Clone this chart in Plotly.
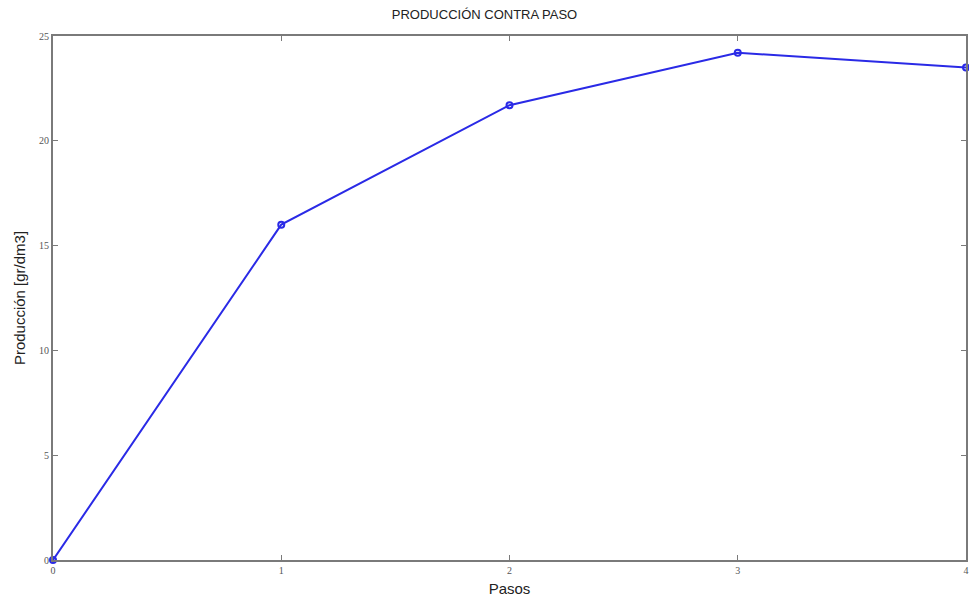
import plotly.graph_objects as go

pasos = [0, 1, 2, 3, 4]
produccion = [0.0, 16.0, 21.7, 24.2, 23.5]
x_ticks = [0, 1, 2, 3, 4]
y_ticks = [0, 5, 10, 15, 20, 25]

fig = go.Figure()
fig.add_trace(go.Scatter(
    x=pasos, y=produccion, mode="lines+markers",
    line=dict(color="#2a2ae6", width=2),
    marker=dict(symbol="circle-open", size=6, color="#2a2ae6", line=dict(width=2)),
    cliponaxis=False, showlegend=False,
))

axis_common = dict(
    showgrid=False, zeroline=False, showline=True, linecolor="#7a7a7a", linewidth=2,
    mirror="ticks", ticks="inside", ticklen=5, tickcolor="#7a7a7a", automargin=False,
    tickfont=dict(family="Liberation Serif, serif", size=10, color="#555555"),
)

W, H = 969, 601
fig.update_layout(
    width=W, height=H,
    margin=dict(l=53, r=3, t=36, b=41),
    paper_bgcolor="white", plot_bgcolor="white",
    title=dict(text="PRODUCCIÓN CONTRA PASO", x=0.5, xanchor="center", y=1 - 14 / H, yanchor="middle",
               font=dict(family="Liberation Sans, Arial", size=13, color="#222222")),
    xaxis=dict(range=[0, 4], tickvals=x_ticks, ticktext=[str(v) for v in x_ticks],
               title=dict(text="Pasos", standoff=8, font=dict(family="Liberation Sans, Arial", size=15, color="#222222")),
               **axis_common),
    yaxis=dict(range=[0, 25], tickvals=y_ticks, ticktext=[str(v) for v in y_ticks],
               title=dict(text="Producción [gr/dm3]", standoff=10, font=dict(family="Liberation Sans, Arial", size=15, color="#222222")),
               **axis_common),
)

fig.write_html(
    "out.html",
    config={"displayModeBar": False},
    post_script="document.body.style.margin='0';document.body.style.overflow='hidden';",
)
